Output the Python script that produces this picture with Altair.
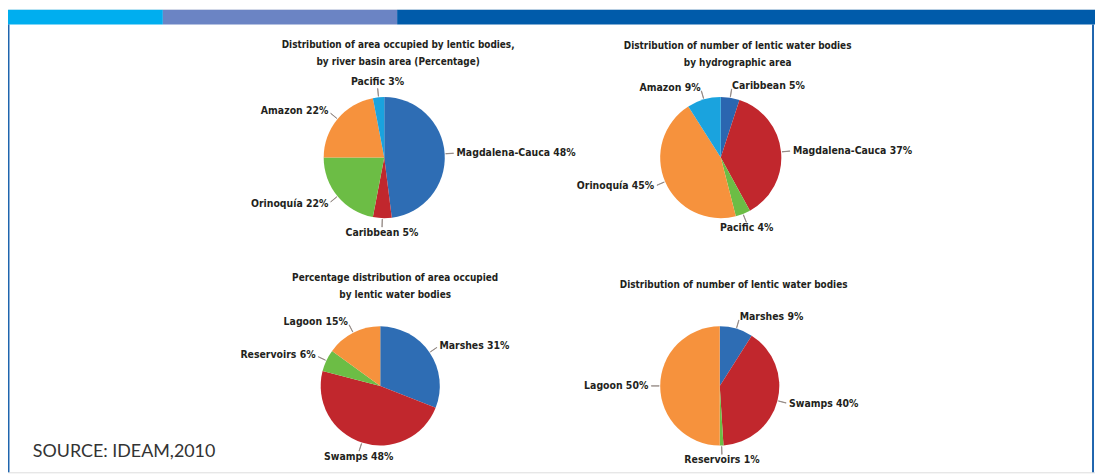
import altair as alt
import pandas as pd

# ---------------- data ----------------
area_basin_cats = ["Magdalena-Cauca", "Caribbean", "Orinoquía", "Amazon", "Pacific"]
area_basin_vals = [48, 5, 22, 22, 3]

num_basin_cats = ["Caribbean", "Magdalena-Cauca", "Pacific", "Orinoquía", "Amazon"]
num_basin_vals = [5, 37, 4, 45, 9]

area_type_cats = ["Marshes", "Swamps", "Reservoirs", "Lagoon"]
area_type_vals = [31, 48, 6, 15]

num_type_cats = ["Marshes", "Swamps", "Reservoirs", "Lagoon"]
num_type_vals = [9, 40, 1, 50]

titles = [
    "Distribution of area occupied by lentic bodies,\nby river basin area (Percentage)",
    "Distribution of number of lentic water bodies\nby hydrographic area",
    "Percentage distribution of area occupied\nby lentic water bodies",
    "Distribution of number of lentic water bodies",
]
source_text = "SOURCE: IDEAM,2010"

# ---------------- styles ----------------
BLUE = "#2e6db4"
DARKBLUE = "#2b66b0"
RED = "#c1272d"
GREEN = "#6cbd45"
ORANGE = "#f6923d"
CYAN = "#1aa3de"
TEXT = "#231f20"
LEADER = "#8c817c"
FONT = "DejaVu Sans Condensed, sans-serif"

W, H = 1095, 466


def pie(cats, vals, colors, cx, cy, r):
    df = pd.DataFrame({"cat": cats, "val": vals, "ord": list(range(len(cats)))})
    tscale = alt.Scale(domain=[0, 100])
    arcs = alt.Chart(df).mark_arc(radius=r).encode(
        x=alt.value(cx), y=alt.value(cy),
        theta=alt.Theta("val:Q", stack=True, scale=tscale),
        order=alt.Order("ord:Q"),
        color=alt.Color("cat:N", scale=alt.Scale(domain=cats, range=colors), legend=None),
    )
    base = alt.Chart(df).transform_window(
        cum="sum(val)", sort=[alt.SortField("ord")], frame=[None, 0]
    ).transform_calculate(
        mid="datum.cum - datum.val / 2",
        t1="datum.cum - datum.val / 2 - 0.03",
        t2="datum.cum - datum.val / 2 + 0.03",
        deg="(datum.cum - datum.val / 2) * 3.6",
        label="datum.cat + ' ' + datum.val + '%'",
    )
    leaders = base.mark_arc(radius=r + 9, radius2=r + 1, stroke=LEADER,
                            strokeWidth=0.8, fillOpacity=0).encode(
        x=alt.value(cx), y=alt.value(cy),
        theta=alt.Theta("t1:Q", stack=None, scale=tscale),
        theta2="t2:Q",
    )
    groups = [
        ("datum.deg >= 5 && datum.deg < 155", "left", "middle", r + 12),
        ("datum.deg >= 155 && datum.deg < 205", "center", "top", r + 10),
        ("datum.deg >= 205 && datum.deg < 350", "right", "middle", r + 12),
        ("datum.deg >= 350 || datum.deg < 5", "center", "bottom", r + 10),
    ]
    layers = [arcs, leaders]
    for cond, al, bl, rad in groups:
        layers.append(
            base.transform_filter(cond).mark_text(
                radius=rad, align=al, baseline=bl, font=FONT, fontSize=10.5,
                fontWeight="bold", color=TEXT,
            ).encode(
                x=alt.value(cx), y=alt.value(cy),
                theta=alt.Theta("mid:Q", stack=None, scale=tscale),
                text="label:N",
            )
        )
    return alt.layer(*layers)


def title_text(t, x, y):
    return alt.Chart(pd.DataFrame({"t": [t]})).mark_text(
        lineBreak="\n", lineHeight=17, align="center", baseline="top",
        font=FONT, fontSize=10, fontWeight="bold", color=TEXT,
    ).encode(text="t:N", x=alt.value(x), y=alt.value(y))


def band(x1, x2, y1, y2, c):
    return alt.Chart(pd.DataFrame({"k": [0]})).mark_rect(color=c).encode(
        x=alt.value(x1), x2=alt.value(x2), y=alt.value(y1), y2=alt.value(y2)
    )


decor = [
    band(0, 156, 0, 15, "#00aeef"),
    band(156, 392, 0, 15, "#6b84c4"),
    band(392, W, 0, 15, "#005baa"),
    band(0, 1.5, 15, H, "#1f65ae"),
    band(1092, 1094, 15, H, "#1f65ae"),
]

pies = [
    pie(area_basin_cats, area_basin_vals, [BLUE, RED, GREEN, ORANGE, CYAN], 379, 149, 61),
    pie(num_basin_cats, num_basin_vals, [DARKBLUE, RED, GREEN, ORANGE, CYAN], 718, 149, 61),
    pie(area_type_cats, area_type_vals, [BLUE, RED, GREEN, ORANGE], 375, 379, 60),
    pie(num_type_cats, num_type_vals, [BLUE, RED, GREEN, ORANGE], 717, 379, 60),
]

texts = [
    title_text(titles[0], 393, 31),
    title_text(titles[1], 735, 32),
    title_text(titles[2], 390, 265),
    title_text(titles[3], 731, 272),
    alt.Chart(pd.DataFrame({"t": [source_text]})).mark_text(
        align="left", baseline="alphabetic", font="Lato", fontSize=18, color="#333333",
    ).encode(text="t:N", x=alt.value(25), y=alt.value(451)),
]

chart = alt.layer(*decor, *pies, *texts).resolve_scale(
    color="independent", theta="independent"
).properties(
    width=W, height=H, padding=0, autosize=alt.AutoSizeParams(type="none")
).configure_view(stroke=None).configure(background="white")

chart.save("out.html", embed_options={"renderer": "svg", "actions": False})
